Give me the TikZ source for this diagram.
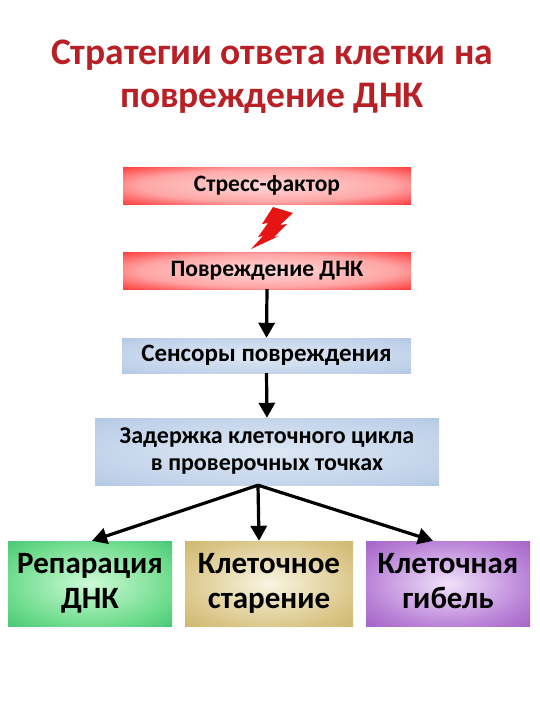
\documentclass[tikz,border=0pt]{standalone}
\usepackage{fontspec}
\setmainfont{Carlito}
\usetikzlibrary{arrows.meta,shadings}
\definecolor{titlered}{RGB}{184,32,38}
\definecolor{boltred}{RGB}{230,20,20}
\pgfdeclareradialshading{glowred}{\pgfpointorigin}{color(0bp)=(red!15!white); color(22bp)=(red!35!white); color(40bp)=(red!90!white); color(50bp)=(red)}
\pgfdeclareradialshading{glowblue}{\pgfpointorigin}{color(0bp)=(rgb,255:red,222;green,232;blue,245); color(30bp)=(rgb,255:red,190;green,208;blue,232); color(50bp)=(rgb,255:red,150;green,180;blue,215)}
\pgfdeclareradialshading{glowgreen}{\pgfpointorigin}{color(0bp)=(rgb,255:red,205;green,250;blue,215); color(25bp)=(rgb,255:red,110;green,220;blue,140); color(50bp)=(rgb,255:red,25;green,170;blue,90)}
\pgfdeclareradialshading{glowolive}{\pgfpointorigin}{color(0bp)=(rgb,255:red,248;green,244;blue,225); color(25bp)=(rgb,255:red,220;green,200;blue,140); color(50bp)=(rgb,255:red,190;green,160;blue,70)}
\pgfdeclareradialshading{glowpurple}{\pgfpointorigin}{color(0bp)=(rgb,255:red,240;green,225;blue,250); color(25bp)=(rgb,255:red,185;green,130;blue,215); color(50bp)=(rgb,255:red,135;green,60;blue,175)}
\begin{document}
\begin{tikzpicture}[x=1pt,y=-1pt,
  box/.style={shade,inner sep=0pt,align=center,font=\bfseries},
  redbox/.style={box,shading=glowred,minimum width=288pt,minimum height=37pt,font=\bfseries\fontsize{23.5}{26}\selectfont},
  bluebox/.style={box,shading=glowblue,font=\bfseries\fontsize{24}{27}\selectfont},
  endbox/.style={box,minimum width=164pt,minimum height=85pt,font=\bfseries\fontsize{31}{35}\selectfont},
  arr/.style={line width=3.2pt,-{Triangle[width=16pt,length=15pt]}},
  title/.style={text=titlered,font=\bfseries\fontsize{37.5}{44}\selectfont,anchor=base,inner sep=0pt}
]
\useasboundingbox (0,0) rectangle (540,720);
\node[title] (t1) at (272,64) {Стратегии ответа клетки на};
\node[title] (t2) at (272,107) {повреждение ДНК};
\node[redbox] (b1) at (267,185.5) {Стресс-фактор};
\node[redbox] (b2) at (267,270.5) {Повреждение ДНК};
\node[bluebox,minimum width=289pt,minimum height=35pt,font=\bfseries\fontsize{25}{27}\selectfont] (b3) at (266.5,355.5) {Сенсоры повреждения};
\node[bluebox,minimum width=344pt,minimum height=67pt] (b4) at (267,451.5) {\strut Задержка клеточного цикла\\в проверочных точках\strut};
\node[endbox,shading=glowgreen] (b5) at (90,583.5) {\strut Репарация\\ДНК\strut};
\node[endbox,shading=glowolive,minimum width=168pt] (b6) at (269,583.5) {\strut Клеточное\\старение\strut};
\node[endbox,shading=glowpurple] (b7) at (448,583.5) {\strut Клеточная\\гибель\strut};
% lightning bolt
\fill[boltred] (273,207) -- (293,213) -- (280,225) -- (287,224) -- (274,237) -- (279,236) -- (251,249) -- (263,236) -- (258,237) -- (268,223) -- (262,224) -- cycle;
\draw[arr] (b2.south) -- (b3.north);
\draw[arr] (b3.south) -- (b4.north);
\coordinate (fork) at ([xshift=-9pt]b4.south);
\draw[arr] (fork) -- ([xshift=2pt]b5.north);
\draw[arr] (fork) -- ([xshift=-10pt]b6.north);
\draw[arr] (fork) -- ([xshift=-15pt]b7.north);
\end{tikzpicture}
\end{document}
